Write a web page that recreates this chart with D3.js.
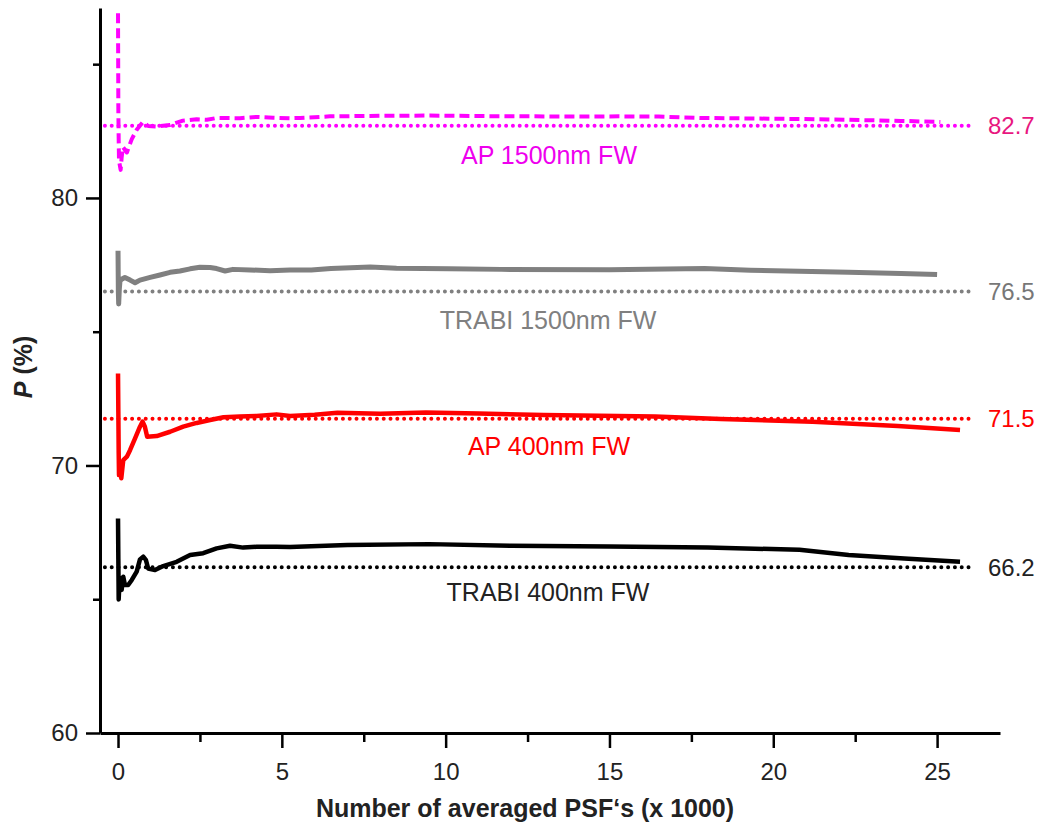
<!DOCTYPE html>
<html>
<head>
<meta charset="utf-8">
<script src="https://cdn.jsdelivr.net/npm/d3@7"></script>
<style>
    body { margin: 0; background: #fff; }
    text { font-family: 'Liberation Sans', Arial, Helvetica, sans-serif; }
</style>
</head>
<body>
<div id="chart"></div>
<script>
// x values are number of averaged PSFs in thousands, y values are P in %
var apFar = [[0, 86.9], [0.01, 83.3], [0.02, 82.2], [0.03, 81.4], [0.08, 81.05], [0.11, 81.5], [0.15, 81.9],
    [0.27, 81.7], [0.42, 82.2], [0.57, 82.55], [0.76, 82.84], [0.92, 82.69], [1.18, 82.67], [1.59, 82.73],
    [1.98, 82.89], [2.4, 82.94], [2.71, 82.92], [3.01, 82.99], [3.72, 82.98], [4.23, 83.03], [4.73, 83.0],
    [5.25, 82.98], [5.56, 82.99], [6.47, 83.05], [8.0, 83.07], [9.52, 83.08], [11.05, 83.06], [12.58, 83.05],
    [14.1, 83.04], [15.3, 83.05], [16.5, 83.04], [17.8, 82.99], [19.3, 82.97], [20.8, 82.95], [22.3, 82.92],
    [23.9, 82.88], [25.1, 82.84]];

var trabiFar = [[0, 78.03], [0.01, 76.5], [0.02, 76.04], [0.04, 76.6], [0.06, 76.9], [0.11, 76.96], [0.21, 77.03],
    [0.37, 76.93], [0.52, 76.83], [0.67, 76.93], [0.98, 77.03], [1.28, 77.12], [1.59, 77.22], [1.89, 77.27],
    [2.2, 77.35], [2.5, 77.41], [2.81, 77.4], [3.01, 77.36], [3.27, 77.27], [3.51, 77.33], [4.03, 77.31],
    [4.64, 77.28], [5.25, 77.31], [5.9, 77.31], [6.5, 77.36], [7.7, 77.42], [8.5, 77.37], [10.1, 77.35],
    [11.7, 77.33], [15.0, 77.32], [17.9, 77.36], [19.3, 77.3], [20.8, 77.26], [22.3, 77.22], [23.9, 77.18],
    [25.0, 77.14]];

var apNear = [[0, 73.44], [0.01, 72.0], [0.02, 70.5], [0.03, 69.64], [0.06, 69.9], [0.1, 69.52], [0.16, 70.2],
    [0.27, 70.33], [0.37, 70.58], [0.52, 71.01], [0.67, 71.45], [0.75, 71.64], [0.82, 71.45], [0.89, 71.07],
    [1.18, 71.1], [1.59, 71.26], [1.99, 71.45], [2.4, 71.59], [2.81, 71.7], [3.22, 71.8], [3.72, 71.83],
    [4.23, 71.85], [4.84, 71.91], [5.25, 71.85], [6.0, 71.9], [6.7, 71.97], [8.0, 71.93], [9.4, 71.98],
    [11.0, 71.94], [13.0, 71.89], [16.4, 71.83], [18.4, 71.74], [21.2, 71.63], [23.8, 71.48], [25.7, 71.33]];

var trabiNear = [[0, 68.02], [0.01, 66.5], [0.02, 64.99], [0.05, 65.8], [0.11, 65.35], [0.16, 65.84],
    [0.21, 65.53], [0.31, 65.53], [0.42, 65.72], [0.57, 66.03], [0.67, 66.49], [0.77, 66.59], [0.85, 66.47],
    [0.92, 66.15], [1.13, 66.09], [1.38, 66.24], [1.79, 66.4], [2.2, 66.65], [2.6, 66.72], [3.01, 66.9],
    [3.42, 67.0], [3.82, 66.93], [4.23, 66.96], [4.84, 66.96], [5.25, 66.95], [7.0, 67.03], [9.5, 67.06],
    [12.0, 67.0], [15.0, 66.97], [18.0, 66.93], [20.8, 66.85], [22.3, 66.65], [24.0, 66.52], [25.7, 66.4]];

var seriesNames = ['AP 1500nm FW', 'TRABI 1500nm FW', 'AP 400nm FW', 'TRABI 400nm FW'];
var seriesData = [apFar, trabiFar, apNear, trabiNear];
// dotted reference levels (where they are drawn) and their printed values
var refLevels = [82.7, 76.5, 71.75, 66.2];
var refLabels = ['82.7', '76.5', '71.5', '66.2'];
var refRange = [-0.4, 26.1];

var xTicks = [0, 5, 10, 15, 20, 25];
var xMinorTicks = [2.5, 7.5, 12.5, 17.5, 22.5];
var yTicks = [60, 70, 80];
var yMinorTicks = [65, 75, 85];

var width = 1040;
var height = 825;

var colors = ['#ff00ff', '#808080', '#ff0000', '#000000'];
var labelColors = ['#ee00ee', '#808080', '#ff0000', '#222222'];
var valueColors = ['#e8177f', '#777777', '#ff0000', '#222222'];
var lineWidths = [4, 5, 4.5, 4.5];
var dashes = ['10 5', null, null, null];
// label positions: [center x, baseline y] in pixels
var labelPos = [[549, 164], [548, 329], [549, 455], [548, 601]];

var x = d3.scaleLinear().domain([-0.55, 26.92]).range([100, 1000]);
var y = d3.scaleLinear().domain([60, 87.1]).range([733, 8]);

//make the svg
var svg = d3.select('#chart')
    .append('svg')
    .attr('width', width)
    .attr('height', height)
    .style('display', 'block');

svg.append('rect')
    .attr('width', width)
    .attr('height', height)
    .style('fill', '#fff');

var line = d3.line()
    .x(function(d){ return x(d[0]); })
    .y(function(d){ return y(d[1]); });

//dotted reference lines
svg.append('g').selectAll('line')
    .data(refLevels)
    .enter().append('line')
    .attr('x1', x(refRange[0]))
    .attr('x2', x(refRange[1]))
    .attr('y1', function(d){ return y(d); })
    .attr('y2', function(d){ return y(d); })
    .style('stroke', function(d, i){ return colors[i]; })
    .style('stroke-width', 4)
    .style('stroke-linecap', 'round')
    .style('stroke-dasharray', '0 6.8');

//the curves
svg.append('g').selectAll('path')
    .data(seriesData)
    .enter().append('path')
    .attr('d', line)
    .style('fill', 'none')
    .style('stroke', function(d, i){ return colors[i]; })
    .style('stroke-width', function(d, i){ return lineWidths[i]; })
    .style('stroke-linejoin', 'round')
    .style('stroke-dasharray', function(d, i){ return dashes[i]; });

//series names
svg.append('g').selectAll('text')
    .data(seriesNames)
    .enter().append('text')
    .attr('x', function(d, i){ return labelPos[i][0]; })
    .attr('y', function(d, i){ return labelPos[i][1]; })
    .attr('text-anchor', 'middle')
    .style('font-size', '25px')
    .style('fill', function(d, i){ return labelColors[i]; })
    .text(function(d){ return d; });

//values at the right end of the reference lines
svg.append('g').selectAll('text')
    .data(refLabels)
    .enter().append('text')
    .attr('x', 988)
    .attr('y', function(d, i){ return y(refLevels[i]) + 8.5; })
    .style('font-size', '24px')
    .style('fill', function(d, i){ return valueColors[i]; })
    .text(function(d){ return d; });

//axes
function styleAxis(g, tickWidth){
    g.select('.domain').style('stroke', '#000').style('stroke-width', 3);
    g.selectAll('.tick line').style('stroke', '#000').style('stroke-width', tickWidth);
    g.selectAll('.tick text')
        .style('font-size', '24px')
        .style('font-family', "'Liberation Sans', Arial, sans-serif")
        .style('fill', '#222');
}

var yAxis = svg.append('g')
    .attr('transform', 'translate(100,0)')
    .call(d3.axisLeft(y).tickValues(yTicks).tickSize(14).tickSizeOuter(0).tickPadding(8));
styleAxis(yAxis, 2.5);

svg.append('g')
    .attr('transform', 'translate(100,0)')
    .call(d3.axisLeft(y).tickValues(yMinorTicks).tickSize(7).tickFormat(''))
    .call(function(g){ g.select('.domain').remove(); })
    .call(function(g){ styleAxis(g, 2.5); });

var xAxis = svg.append('g')
    .attr('transform', 'translate(0,733)')
    .call(d3.axisBottom(x).tickValues(xTicks).tickSize(15).tickSizeOuter(0).tickPadding(15));
styleAxis(xAxis, 2.5);

svg.append('g')
    .attr('transform', 'translate(0,733)')
    .call(d3.axisBottom(x).tickValues(xMinorTicks).tickSize(9).tickFormat(''))
    .call(function(g){ g.select('.domain').remove(); })
    .call(function(g){ styleAxis(g, 2.5); });

//axis titles
svg.append('text')
    .attr('x', 525)
    .attr('y', 817)
    .attr('text-anchor', 'middle')
    .style('font-size', '25px')
    .style('font-weight', 'bold')
    .style('fill', '#222')
    .text('Number of averaged PSF\u2018s (x 1000)');

var yTitle = svg.append('text')
    .attr('transform', 'translate(32,367) rotate(-90)')
    .attr('text-anchor', 'middle')
    .style('font-size', '25px')
    .style('font-weight', 'bold')
    .style('fill', '#222');
yTitle.append('tspan').style('font-style', 'italic').text('P');
yTitle.append('tspan').text(' (%)');
</script>
</body>
</html>
